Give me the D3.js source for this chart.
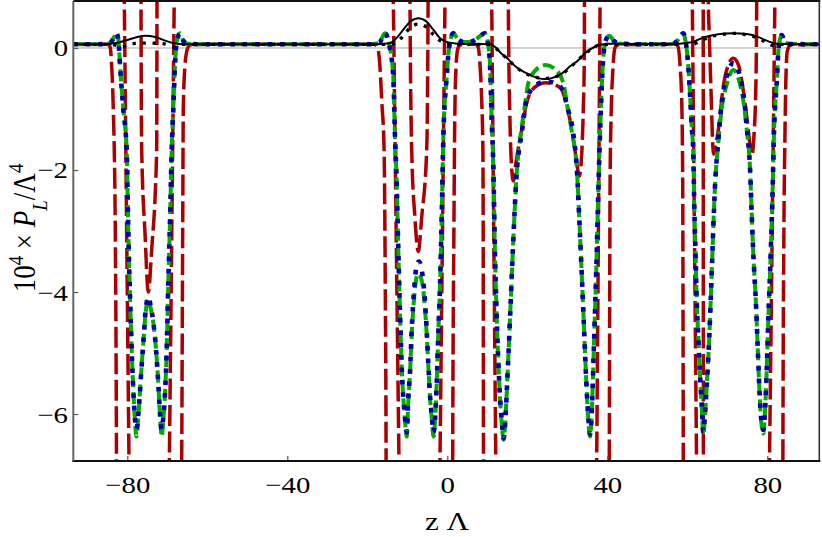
<!DOCTYPE html>
<html><head><meta charset="utf-8">
<script src="https://cdn.jsdelivr.net/npm/d3@7"></script>
<style>
body{margin:0;background:#fff}
svg{display:block}
text{font-family:"Liberation Serif","Times New Roman",serif;fill:#000}
</style>
</head><body>
<svg id="c" width="822" height="537"></svg>
<script>
// ---------- data ----------
const xTicks = [-80, -40, 0, 40, 80];
const yTicks = [0, -2, -4, -6];

const blackSolid = [[-93.5,0.06],[-86,0.06],[-83,0.08],[-80,0.13],[-77.5,0.18],[-75.6,0.2],[-73,0.18],[-70.5,0.12],[-68.5,0.08],[-66,0.06],
 [-20,0.06],[-15.5,0.07],[-14.3,0.08],[-12.6,0.17],[-11,0.3],[-9.3,0.43],[-7.25,0.487],[-5.15,0.43],[-3.5,0.3],[-1.8,0.16],[-0.15,0.1],[2,0.075],[4,0.066],[8,0.066],
 [10.7,0.06],[11.9,0.02],[13.5,-0.09],[15,-0.17],[17,-0.3],[20.25,-0.43],[22.5,-0.49],[24.4,-0.51],[26.3,-0.49],[28.6,-0.42],[30.7,-0.3],[32.75,-0.2],[34.5,-0.08],[36.9,0.02],[40.25,0.07],[45,0.066],
 [57.35,0.066],[59.5,0.08],[61.5,0.1],[63.2,0.15],[65.7,0.2],[68.2,0.23],[71.5,0.24],[74.85,0.23],[77.35,0.19],[79.85,0.12],[82.35,0.07],[93.5,0.06]];

const blackDotted = [[-93.5,0.06],[-84,0.06],[-81.5,0.02],[-79,0.07],[-75,0.08],[-71,0.07],[-68.5,0.02],[-66,0.06],
 [-20,0.06],[-14,0.06],[-12.5,0.1],[-11,0.2],[-9.3,0.33],[-7.25,0.39],[-5.2,0.34],[-3.5,0.22],[-1.8,0.12],[0,0.07],[4,0.06],
 [10.5,0.06],[12,0.0],[15,-0.18],[17.5,-0.33],[20.25,-0.44],[24.4,-0.5],[28.6,-0.43],[31,-0.3],[33.5,-0.15],[36,-0.02],[38.5,0.06],
 [57,0.06],[59.5,0.04],[61.5,0.06],[63.5,0.12],[66,0.19],[68.5,0.22],[71.5,0.24],[74.5,0.22],[77,0.18],[79.5,0.1],[81.5,0.04],[83.5,0.06],[93.5,0.06]];

const blueDotted = [[-93.5,0.06],[-88,0.06],[-85,0.07],[-84,0.1],[-83.3,0.18],[-82.7,0.24],[-82.2,0.12],[-81.8,-0.3],[-81,-1.0],[-80.15,-1.67],[-79.75,-3.0],[-79.3,-4.13],[-78.9,-4.95],[-78.5,-5.6],[-78.1,-6.05],[-77.7,-6.25],[-77.25,-6.0],[-76.8,-5.6],[-76.4,-5.2],[-76,-4.84],[-75.4,-4.3],[-74.75,-4.08],[-74.1,-4.25],[-73.5,-4.49],[-72.8,-4.95],[-72.25,-5.5],[-71.8,-6.0],[-71.4,-6.25],[-71,-6.05],[-70.6,-5.7],[-70.15,-4.95],[-69.75,-3.86],[-69.3,-2.77],[-68.9,-1.67],[-68.5,-1.0],[-68.1,-0.3],[-67.6,0.12],[-66.8,0.24],[-66,0.12],[-65,0.07],
 [-60,0.06],[-20,0.06],[-17,0.08],[-16.2,0.18],[-15.6,0.24],[-14.5,0.05],[-13.5,-0.47],[-13.1,-1.4],[-12.7,-2.1],[-12.25,-3.31],[-11.8,-4.4],[-11.4,-5.22],[-10.6,-6.04],[-10.15,-6.3],[-9.75,-5.72],[-9.3,-5.28],[-8.9,-4.62],[-8.3,-3.97],[-7.65,-3.56],[-7.1,-3.5],[-6.15,-3.75],[-5.6,-4.13],[-5.15,-4.62],[-4.75,-5.17],[-4.3,-5.72],[-3.85,-6.05],[-3.45,-6.3],[-3.0,-6.0],[-2.65,-5.5],[-2.25,-4.68],[-1.8,-3.86],[-1.4,-2.77],[-1.0,-1.5],[-0.15,-0.47],[0.6,0.08],[1.5,0.24],[2.7,0.14],[4,0.1],[5.5,0.1],[6.9,0.13],[8.3,0.2],[9.4,0.24],[10.1,0.1],[10.7,-0.3],[11.1,-1.2],[11.5,-1.9],[11.9,-3.3],[12.35,-4.4],[13,-5.5],[13.6,-6.1],[14.1,-6.4],[14.6,-6.0],[15,-5.44],[15.7,-4.4],[16.4,-3.3],[17.3,-2.1],[18.6,-1.4],[19.85,-0.85],[21.9,-0.62],[24.85,-0.55],[28.2,-0.63],[30.25,-1.02],[31.5,-1.4],[32.35,-1.95],[33.2,-3.1],[34,-4.3],[34.7,-5.4],[35.2,-6.0],[35.7,-6.33],[36.1,-6.0],[36.6,-5.0],[37.3,-3.5],[37.9,-2.0],[38.4,-1.0],[38.9,-0.25],[39.6,0.12],[40.5,0.2],[41.6,0.12],[42.8,0.07],
 [50,0.06],[56,0.06],[57.5,0.12],[58.3,0.2],[59,0.24],[59.6,0.1],[60.25,-0.3],[60.8,-0.9],[61.1,-1.29],[61.5,-1.73],[61.75,-2.6],[62.1,-3.48],[62.35,-4.13],[62.75,-4.73],[63.2,-5.39],[63.6,-5.82],[64,-6.29],[64.4,-6.0],[64.85,-5.55],[65.5,-4.73],[66.1,-3.69],[66.9,-2.3],[67.75,-1.51],[68.6,-0.9],[69.85,-0.47],[71.5,-0.25],[73.2,-0.47],[74.3,-0.9],[74.85,-1.29],[75.7,-2.0],[76.1,-2.71],[76.5,-3.37],[77.2,-4.24],[77.6,-4.9],[78.2,-5.82],[79,-6.26],[79.7,-5.55],[80.25,-4.46],[80.85,-3.37],[81.35,-2.27],[81.7,-1.34],[82.35,-0.58],[82.9,0.05],[83.6,0.21],[84.4,0.1],[85.5,0.066],[93.5,0.06]];

const greenDashed = [[-93.5,0.06],[-88,0.06],[-85,0.07],[-84,0.1],[-83.3,0.18],[-82.7,0.24],[-82.2,0.12],[-81.8,-0.3],[-81,-1.0],[-80.15,-1.67],[-79.75,-3.0],[-79.3,-4.13],[-78.9,-4.95],[-78.5,-5.6],[-78.1,-6.1],[-77.7,-6.37],[-77.25,-6.05],[-76.8,-5.6],[-76.4,-5.2],[-76,-4.84],[-75.4,-4.32],[-74.75,-4.12],[-74.1,-4.28],[-73.5,-4.5],[-72.8,-4.95],[-72.25,-5.5],[-71.8,-6.05],[-71.4,-6.37],[-71,-6.1],[-70.6,-5.7],[-70.15,-4.95],[-69.75,-3.86],[-69.3,-2.77],[-68.9,-1.67],[-68.5,-1.0],[-68.1,-0.3],[-67.6,0.12],[-66.8,0.24],[-66,0.12],[-65,0.07],
 [-60,0.06],[-20,0.06],[-17,0.08],[-16.2,0.18],[-15.6,0.24],[-14.5,0.05],[-13.5,-0.47],[-13.1,-1.4],[-12.7,-2.1],[-12.25,-3.31],[-11.8,-4.4],[-11.4,-5.22],[-10.6,-6.08],[-10.15,-6.37],[-9.75,-5.8],[-9.3,-5.3],[-8.9,-4.7],[-8.3,-4.1],[-7.65,-3.75],[-7.1,-3.7],[-6.15,-3.9],[-5.6,-4.25],[-5.15,-4.7],[-4.75,-5.2],[-4.3,-5.75],[-3.85,-6.1],[-3.45,-6.37],[-3.0,-6.05],[-2.65,-5.5],[-2.25,-4.68],[-1.8,-3.86],[-1.4,-2.77],[-1.0,-1.5],[-0.15,-0.47],[0.6,0.08],[1.5,0.24],[2.7,0.14],[4,0.1],[5.5,0.1],[6.9,0.13],[8.3,0.2],[9.4,0.24],[10.1,0.1],[10.7,-0.3],[11.1,-1.2],[11.5,-1.9],[11.9,-3.3],[12.35,-4.4],[13,-5.5],[13.6,-6.15],[14.1,-6.42],[14.6,-6.0],[15,-5.44],[15.7,-4.4],[16.4,-3.3],[17.3,-2.1],[18.6,-1.3],[19.5,-0.9],[20.25,-0.58],[22.3,-0.35],[24.6,-0.28],[27,-0.35],[29,-0.58],[30,-0.95],[31.2,-1.4],[32.35,-1.95],[33.2,-3.1],[34,-4.3],[34.7,-5.4],[35.2,-6.05],[35.7,-6.37],[36.1,-6.0],[36.6,-5.0],[37.3,-3.5],[37.9,-2.0],[38.4,-1.0],[38.9,-0.25],[39.6,0.12],[40.5,0.2],[41.6,0.12],[42.8,0.07],
 [50,0.06],[56,0.06],[57.5,0.12],[58.3,0.2],[59,0.24],[59.6,0.1],[60.25,-0.3],[60.8,-0.9],[61.1,-1.29],[61.5,-1.73],[61.75,-2.6],[62.1,-3.48],[62.35,-4.13],[62.75,-4.73],[63.2,-5.39],[63.6,-5.88],[64,-6.34],[64.4,-6.05],[64.85,-5.55],[65.5,-4.73],[66.1,-3.69],[66.9,-2.3],[67.75,-1.55],[68.6,-1.0],[69.85,-0.6],[71.5,-0.36],[73.2,-0.6],[74.3,-1.0],[74.85,-1.33],[75.7,-2.0],[76.1,-2.71],[76.5,-3.37],[77.2,-4.24],[77.6,-4.9],[78.2,-5.85],[79,-6.32],[79.7,-5.55],[80.25,-4.46],[80.85,-3.37],[81.35,-2.27],[81.7,-1.34],[82.35,-0.58],[82.9,0.05],[83.6,0.21],[84.4,0.1],[85.5,0.066],[93.5,0.06]];

// red dashed curve: separate branches (it diverges between them)
const redBranches = [
 [[-93.5,0.06],[-88,0.06],[-85,0.06],[-84.3,0.02],[-83.9,-0.3],[-83.5,-1.0],[-83.0,-3.0],[-82.7,-6.77],[-82.62,-8.5]],
 [[-80.86,1.5],[-79.46,-7.5]],
 [[-76.6,1.5],[-76.575,0.787],[-76.4,-1.67],[-75.575,-3.03],[-74.75,-4.0],[-73.9,-3.3],[-72.65,-1.67],[-72.575,0.787],[-72.55,1.5]],
 [[-69.6,-7.5],[-68.15,1.5]],
 [[-66.55,-8.5],[-66.4,-6.77],[-66.15,-3.0],[-66.0,-1.0],[-65.6,-0.3],[-65.0,-0.02],[-64.3,0.05],[-60,0.06],[-20,0.06],[-18.3,0.06],[-17.5,0.02],[-16.9,-0.25],[-16.4,-0.85],[-15.8,-1.67],[-15.5,-4],[-15.3,-6.77],[-15.25,-8.5]],
 [[-13.63,1.5],[-11.94,-7.5]],
 [[-9.35,1.5],[-9.325,0.787],[-8.9,-1.67],[-8.1,-2.77],[-7.25,-3.34],[-6.4,-2.77],[-5.15,-1.67],[-4.8,0.787],[-4.78,1.5]],
 [[-1.95,-7.5],[-0.46,1.5]],
 [[1.3,-8.5],[1.35,-6.77],[1.65,-3],[1.9,-1.0],[2.2,-0.3],[2.6,-0.02],[3.2,0.05],[5,0.06],[7,0.06],[7.7,0.02],[8.2,-0.3],[8.6,-0.85],[8.9,-1.67],[9.0,-4],[9.05,-6.77],[9.1,-8.5]],
 [[11.0,1.5],[12.22,-7.5]],
 [[15.2,1.5],[15.25,0.787],[15.35,0],[15.6,-1.0],[15.95,-1.8],[16.5,-2.18],[17.0,-1.95],[17.6,-1.7],[18.6,-1.35],[19.85,-0.9],[21.9,-0.64],[24.6,-0.57],[28.2,-0.65],[30.25,-1.05],[31.3,-1.4],[32.2,-1.8],[33.0,-2.1],[33.5,-1.85],[34.0,-1.0],[34.25,-0.2],[34.3,0.787],[34.33,1.5]],
 [[37.27,-7.5],[38.28,1.5]],
 [[40.45,-8.5],[40.5,-6.77],[40.6,-4],[40.7,-2.16],[41.0,-1.0],[41.4,-0.35],[41.9,0.0],[42.6,0.05],[50,0.06],[57,0.06],[57.7,0.02],[58.2,-0.3],[58.6,-0.85],[58.85,-2.16],[59.0,-6.77],[59.05,-8.5]],
 [[61.15,1.5],[62.42,-7.5]],
 [[63.98,1.5],[64.02,-7.5]],
 [[65.2,1.5],[65.25,0.787],[65.5,0.2],[66.0,-0.85],[66.3,-1.5],[66.6,-1.74],[67.1,-1.6],[67.75,-1.35],[69.0,-0.63],[70.25,-0.28],[71.5,-0.17],[72.8,-0.28],[74.0,-0.7],[75.0,-1.2],[75.7,-1.6],[76.2,-1.74],[76.7,-1.4],[77.15,-0.6],[77.35,0.787],[77.37,1.5]],
 [[80.42,-7.5],[82.03,1.5]],
 [[83.85,-8.5],[83.9,-6.77],[84.15,-3],[84.4,-1.5],[84.65,-0.5],[85.0,-0.05],[85.8,0.05],[93.5,0.06]]
];

// ---------- chart ----------
const L = 73.3, R = 819.3, T = 1, B = 461;
const svg = d3.select('#c');
const x = d3.scaleLinear().domain([-93.5, 93]).range([L, R]);
const y = d3.scaleLinear().domain([-6.77, 0.77]).range([B, T]);

svg.append('defs').append('clipPath').attr('id','clip')
  .append('rect').attr('x',L).attr('y',T).attr('width',R-L).attr('height',B-T);

// zero line
svg.append('line').attr('x1',L).attr('x2',R).attr('y1',y(0)).attr('y2',y(0))
  .attr('stroke','#a8a8a8').attr('stroke-width',1);

const line = d3.line().x(d=>x(d[0])).y(d=>y(d[1])).curve(d3.curveMonotoneX);
const plot = svg.append('g').attr('clip-path','url(#clip)');

redBranches.forEach(seg=>{
  plot.append('path').datum(seg).attr('d',line).attr('fill','none')
    .attr('stroke','#aa0000').attr('stroke-width',3.5).attr('stroke-dasharray','21 5.5');
});
plot.append('path').datum(greenDashed).attr('d',line).attr('fill','none')
  .attr('stroke','#00aa00').attr('stroke-width',4).attr('stroke-dasharray','12 5');
plot.append('path').datum(blueDotted).attr('d',line).attr('fill','none')
  .attr('stroke','#0000aa').attr('stroke-width',4.6).attr('stroke-dasharray','4.6 7.8');
plot.append('path').datum(blackSolid).attr('d',line).attr('fill','none')
  .attr('stroke','#000').attr('stroke-width',2);
plot.append('path').datum(blackDotted).attr('d',line).attr('fill','none')
  .attr('stroke','#000').attr('stroke-width',3.3).attr('stroke-dasharray','3.3 6.7');

// axes
const fmt = d => (d < 0 ? '\u2212' : '') + Math.abs(d);
const gx = svg.append('g').attr('transform',`translate(0,${B})`)
  .call(d3.axisBottom(x).tickValues(xTicks).tickFormat(fmt).tickSizeInner(-5).tickSizeOuter(0));
gx.select('.domain').remove();
gx.selectAll('.tick line').attr('stroke','#555').attr('stroke-width',1.2);
gx.selectAll('.tick text').attr('y',32).attr('dy',null).attr('font-size',24)
  .attr('transform','scale(1.2,1)').style('font-family','"Liberation Serif",serif').attr('fill','#000');

const gy = svg.append('g').attr('transform',`translate(${L},0)`)
  .call(d3.axisLeft(y).tickValues(yTicks).tickFormat(fmt).tickSizeInner(-5).tickSizeOuter(0));
gy.select('.domain').remove();
gy.selectAll('.tick line').attr('stroke','#555').attr('stroke-width',1.2);
gy.selectAll('.tick text').attr('x',-4.4).attr('y',8).attr('dy',null).attr('font-size',24)
  .attr('transform','scale(1.2,1)').style('font-family','"Liberation Serif",serif').attr('fill','#000');

// frame
svg.append('line').attr('x1',L).attr('x2',R+1).attr('y1',T).attr('y2',T).attr('stroke','#111').attr('stroke-width',2);
svg.append('line').attr('x1',R).attr('x2',R).attr('y1',T).attr('y2',B).attr('stroke','#333').attr('stroke-width',1.6);
svg.append('line').attr('x1',L-1).attr('x2',R+1).attr('y1',B).attr('y2',B).attr('stroke','#111').attr('stroke-width',2);
svg.append('line').attr('x1',L).attr('x2',L).attr('y1',T).attr('y2',B).attr('stroke','#666').attr('stroke-width',2);

// axis labels
svg.append('text').attr('transform',`translate(447,530) scale(1.2,1)`).attr('text-anchor','middle')
  .attr('font-size',26).text('z \u039B');

const yl = svg.append('text').attr('transform','translate(35,228) scale(1.15,1) rotate(-90)')
  .attr('text-anchor','middle').attr('font-size',27);
yl.append('tspan').text('10');
yl.append('tspan').attr('baseline-shift','super').attr('font-size','70%').text('4');
yl.append('tspan').text('\u00A0\u00D7\u00A0');
yl.append('tspan').attr('font-style','italic').text('P');
yl.append('tspan').attr('baseline-shift','sub').attr('font-size','70%').attr('font-style','italic').text('L');
yl.append('tspan').text('/\u039B');
yl.append('tspan').attr('baseline-shift','super').attr('font-size','70%').text('4');
</script>
</body></html>
